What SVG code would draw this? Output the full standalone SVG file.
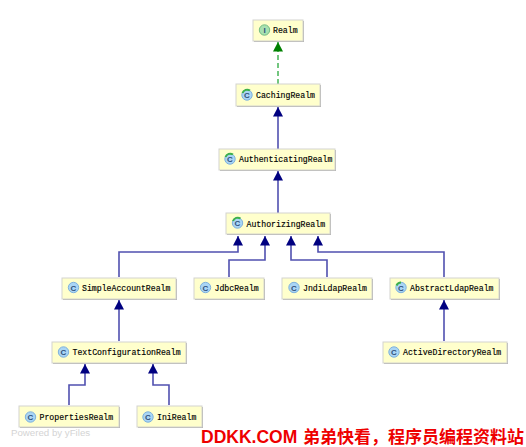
<svg xmlns="http://www.w3.org/2000/svg" width="526" height="447" viewBox="0 0 526 447">
<defs>
<marker id="blue" markerUnits="userSpaceOnUse" markerWidth="11" markerHeight="11" refX="9.500" refY="5" orient="auto"><path d="M0,0L9.500,5L0,10z" fill="#000080"/></marker>
<marker id="green" markerUnits="userSpaceOnUse" markerWidth="11" markerHeight="11" refX="9.500" refY="5" orient="auto"><path d="M0,0L9.500,5L0,10z" fill="#008000"/></marker>
</defs>
<style>
.box{fill:#ffffcc;stroke:#d4d4d0;stroke-width:1}
.shadow{fill:#b0b0b0}
.t{font-family:"Liberation Mono",monospace;font-size:8.2px;fill:#000;stroke:#000;stroke-width:.15}
.ic{fill:#a9d5f5;stroke:#7fb2dc;stroke-width:1}
.ii{fill:#a8e0b0;stroke:#74bd82;stroke-width:1}
.il{font-family:"Liberation Sans",sans-serif;font-size:8px;font-weight:bold;fill:#30507a;text-anchor:middle}
.arc{fill:none;stroke:#3cb04a;stroke-width:2}
.e{fill:none;stroke:#5050b0;stroke-width:1.6;marker-end:url(#blue)}
.g{fill:none;stroke:#50b860;stroke-width:1.6;stroke-dasharray:5 3;marker-end:url(#green)}
</style>
<rect width="526" height="447" fill="#ffffff"/>
<g id="connectors">
<path class="g" d="M278,84V42"/>
<path class="e" d="M278,149V107"/>
<path class="e" d="M278,213V171"/>
<path class="e" d="M119,277V252H238V236"/>
<path class="e" d="M229,277V260H265V236"/>
<path class="e" d="M327,277V260H291V236"/>
<path class="e" d="M444,277V252H318V236"/>
<path class="e" d="M119,341V300"/>
<path class="e" d="M444,341V300"/>
<path class="e" d="M69,405V385H85V364"/>
<path class="e" d="M169,405V385H153V364"/>
</g>
<g id="realm"><rect class="shadow" x="254" y="21" width="50" height="21"/><rect class="box" x="253" y="20" width="50" height="21"/><circle class="ii" cx="264.500" cy="30" r="5.200"/><text class="il" x="264.500" y="33">I</text><text class="t" x="273" y="33">Realm</text></g>
<g id="cachingrealm"><rect class="shadow" x="237" y="85" width="84" height="22"/><rect class="box" x="236" y="84" width="84" height="22"/><circle class="ic" cx="247" cy="95" r="5.200"/><path class="arc" d="M242.500,93A5,5 0 0 1 250,90.500"/><text class="il" x="247" y="98">C</text><text class="t" x="256" y="98">CachingRealm</text></g>
<g id="authenticatingrealm"><rect class="shadow" x="220" y="150" width="116" height="21"/><rect class="box" x="219" y="149" width="116" height="21"/><circle class="ic" cx="230" cy="159" r="5.200"/><path class="arc" d="M225.500,157A5,5 0 0 1 233,154.500"/><text class="il" x="230" y="162">C</text><text class="t" x="239" y="162">AuthenticatingRealm</text></g>
<g id="authorizingrealm"><rect class="shadow" x="227" y="214" width="104" height="21"/><rect class="box" x="226" y="213" width="104" height="21"/><circle class="ic" cx="237.500" cy="223" r="5.200"/><path class="arc" d="M233,221A5,5 0 0 1 240.500,218.500"/><text class="il" x="237.500" y="226">C</text><text class="t" x="246.500" y="226.500">AuthorizingRealm</text></g>
<g id="simpleaccountrealm"><rect class="shadow" x="63" y="279" width="114" height="21"/><rect class="box" x="62" y="278" width="114" height="21"/><circle class="ic" cx="73.500" cy="287.500" r="5.200"/><text class="il" x="73.500" y="290.500">C</text><text class="t" x="82" y="291">SimpleAccountRealm</text></g>
<g id="jdbcrealm"><rect class="shadow" x="195" y="279" width="70" height="21"/><rect class="box" x="194" y="278" width="70" height="21"/><circle class="ic" cx="205.500" cy="287.500" r="5.200"/><text class="il" x="205.500" y="290.500">C</text><text class="t" x="214.500" y="291">JdbcRealm</text></g>
<g id="jndildaprealm"><rect class="shadow" x="283" y="279" width="90" height="21"/><rect class="box" x="282" y="278" width="90" height="21"/><circle class="ic" cx="294" cy="287.500" r="5.200"/><text class="il" x="294" y="290.500">C</text><text class="t" x="303" y="291">JndiLdapRealm</text></g>
<g id="abstractldaprealm"><rect class="shadow" x="391" y="279" width="109" height="21"/><rect class="box" x="390" y="278" width="109" height="21"/><circle class="ic" cx="401" cy="287.500" r="5.200"/><path class="arc" d="M396.500,285.500A5,5 0 0 1 401,282.500"/><text class="il" x="401" y="290.500">C</text><text class="t" x="410" y="291">AbstractLdapRealm</text></g>
<g id="activedirectoryrealm"><rect class="shadow" x="384" y="343" width="124" height="21"/><rect class="box" x="383" y="342" width="124" height="21"/><circle class="ic" cx="394" cy="352" r="5.200"/><text class="il" x="394" y="355">C</text><text class="t" x="403" y="355">ActiveDirectoryRealm</text></g>
<g id="textconfigurationrealm"><rect class="shadow" x="53" y="343" width="134" height="21"/><rect class="box" x="52" y="342" width="134" height="21"/><circle class="ic" cx="63.500" cy="352" r="5.200"/><text class="il" x="63.500" y="355">C</text><text class="t" x="72.500" y="355">TextConfigurationRealm</text></g>
<g id="propertiesrealm"><rect class="shadow" x="20" y="407" width="100" height="21"/><rect class="box" x="19" y="406" width="100" height="21"/><circle class="ic" cx="30.500" cy="417" r="5.200"/><text class="il" x="30.500" y="420">C</text><text class="t" x="39.500" y="420">PropertiesRealm</text></g>
<g id="inirealm"><rect class="shadow" x="138" y="407" width="65" height="21"/><rect class="box" x="137" y="406" width="65" height="21"/><circle class="ic" cx="148" cy="417" r="5.200"/><text class="il" x="148" y="420">C</text><text class="t" x="157" y="420">IniRealm</text></g>
<text x="11" y="435.500" font-family="Liberation Sans,sans-serif" font-size="9.700" fill="#d4d4d4">Powered by yFiles</text>
<text x="201" y="443" font-family="Liberation Sans,Noto Sans CJK SC,sans-serif" font-size="17.500" font-weight="bold" fill="#ee0000">DDKK.COM</text>
<text x="303" y="443" font-family="Noto Sans CJK SC,sans-serif" font-size="17" font-weight="bold" fill="#ee0000">弟弟快看，程序员编程资料站</text>
</svg>
